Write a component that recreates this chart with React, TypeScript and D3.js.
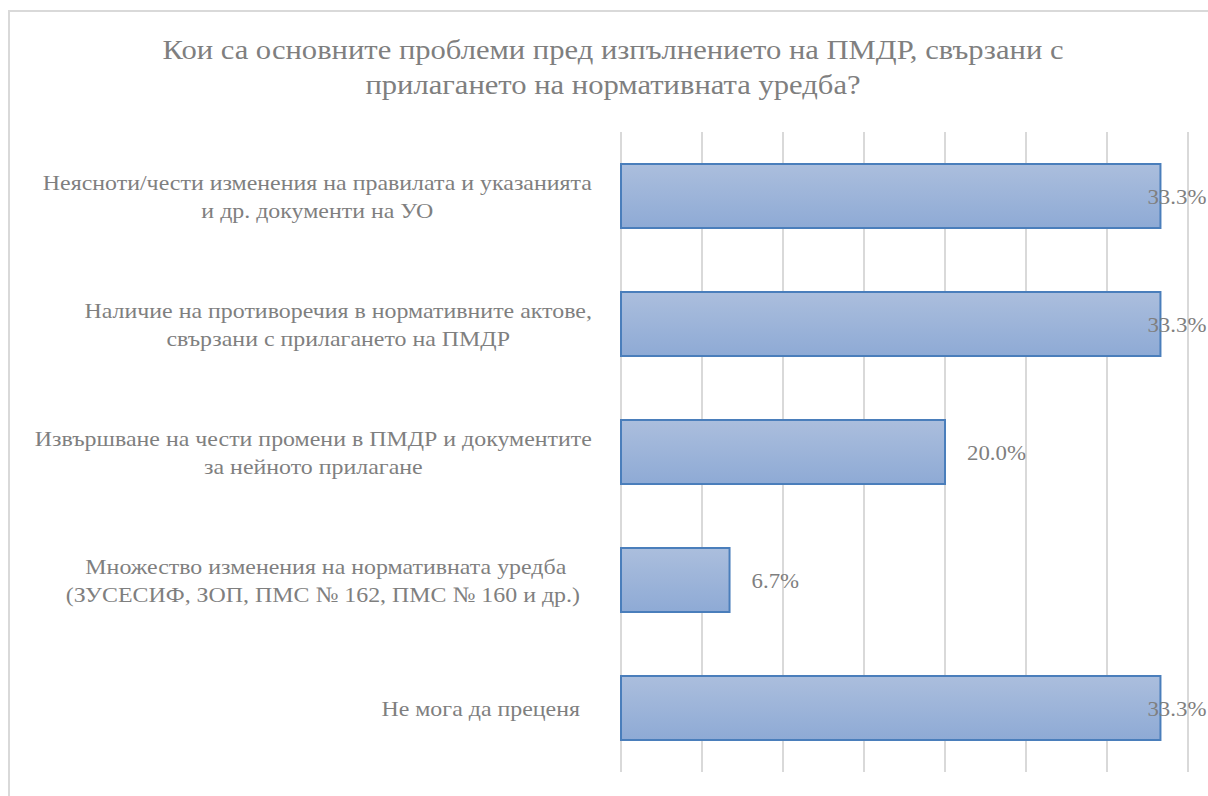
import React, { useEffect, useRef } from "react";
import * as d3 from "d3";

const titleLines = [
  "Кои са основните проблеми пред изпълнението на ПМДР, свързани с",
  "прилагането на нормативната уредба?",
];

const categories = [
  ["Неясноти/чести изменения на правилата и указанията", "и др. документи на УО"],
  ["Наличие на противоречия в нормативните актове,", "свързани с прилагането на ПМДР"],
  ["Извършване на чести промени в ПМДР и документите", "за нейното прилагане"],
  ["Множество изменения на нормативната уредба ", "(ЗУСЕСИФ, ЗОП, ПМС № 162, ПМС № 160 и др.)  "],
  ["Не мога да преценя  "],
];

const values = [0.333, 0.333, 0.2, 0.067, 0.333];
const xTicks = [0, 0.05, 0.1, 0.15, 0.2, 0.25, 0.3, 0.35];

const W = 1208;
const H = 796;
const plotLeft = 621;
const plotRight = 1188;
const plotTop = 132;
const plotBottom = 772;
const labelRight = 592;
const labelOverlap = 13;
const textColor = "#7f7f7f";
const font = "Liberation Serif";
const stretchLabel = 1.087;
const stretchTitle = 1.133;

export default function App() {
  const ref = useRef<SVGSVGElement>(null);

  useEffect(() => {
    const svg = d3.select(ref.current);
    svg.selectAll("*").remove();

    const defs = svg.append("defs");
    const grad = defs
      .append("linearGradient")
      .attr("id", "barGrad")
      .attr("x1", 0)
      .attr("y1", 0)
      .attr("x2", 0)
      .attr("y2", 1);
    grad.append("stop").attr("offset", "0%").attr("stop-color", "#abbedd");
    grad.append("stop").attr("offset", "100%").attr("stop-color", "#8eaad5");

    // chart border
    svg
      .append("rect")
      .attr("x", 9)
      .attr("y", 11)
      .attr("width", 1400)
      .attr("height", 1000)
      .attr("fill", "white")
      .attr("stroke", "#d9d9d9")
      .attr("stroke-width", 2);

    // title
    titleLines.forEach((t, i) => {
      svg
        .append("g")
        .attr("transform", `translate(613,${59 + i * 35}) scale(${stretchTitle},1)`)
        .append("text")
        .style("font-family", font)
        .attr("font-size", 27)
        .attr("fill", textColor)
        .attr("text-anchor", "middle")
        .text(t);
    });

    const x = d3.scaleLinear().domain([0, 0.35]).range([plotLeft, plotRight]);
    const y = d3
      .scaleBand<number>()
      .domain(d3.range(categories.length))
      .range([plotTop, plotBottom])
      .paddingInner(0.5)
      .paddingOuter(0.25);

    // gridlines
    svg
      .append("g")
      .selectAll("line")
      .data(xTicks)
      .join("line")
      .attr("x1", (d) => x(d))
      .attr("x2", (d) => x(d))
      .attr("y1", plotTop)
      .attr("y2", plotBottom)
      .attr("stroke", "#d9d9d9")
      .attr("stroke-width", 2);

    // bars
    svg
      .append("g")
      .selectAll("rect")
      .data(values)
      .join("rect")
      .attr("x", x(0))
      .attr("y", (_, i) => y(i)!)
      .attr("width", (d) => x(d) - x(0))
      .attr("height", y.bandwidth())
      .attr("fill", "url(#barGrad)")
      .attr("stroke", "#4a7ebb")
      .attr("stroke-width", 2);

    // data labels (labels that don't fit beyond the bar are pulled back over its end)
    const maxV = d3.max(values) || 0;
    values.forEach((v, i) => {
      const px = v >= maxV ? x(v) - labelOverlap : x(v) + 22;
      svg
        .append("g")
        .attr(
          "transform",
          `translate(${px},${y(i)! + y.bandwidth() / 2 + 1}) scale(${stretchLabel},1)`
        )
        .append("text")
        .style("font-family", font)
        .attr("font-size", 21)
        .attr("fill", textColor)
        .attr("dominant-baseline", "central")
        .text(d3.format(".1%")(v));
    });

    // category labels
    const lineH = 28;
    categories.forEach((lines, i) => {
      const cy = y(i)! + y.bandwidth() / 2;
      const g = svg.append("g");
      const txt = g
        .append("text")
        .style("font-family", font)
        .style("white-space", "pre")
        .attr("font-size", 22)
        .attr("fill", textColor)
        .attr("text-anchor", "middle")
        .attr("dominant-baseline", "central");
      const spans = lines.map((t, j) =>
        txt
          .append("tspan")
          .attr("x", 0)
          .attr("y", (j - (lines.length - 1) / 2) * lineH)
          .text(t)
      );
      const maxW =
        (d3.max(spans, (s) => (s.node() as SVGTSpanElement).getComputedTextLength()) || 0) *
        stretchLabel;
      g.attr("transform", `translate(${labelRight - maxW / 2},${cy}) scale(${stretchLabel},1)`);
    });
  }, []);

  return (
    <svg
      ref={ref}
      width={W}
      height={H}
      style={{ position: "absolute", left: 0, top: 0, background: "white" }}
    />
  );
}
